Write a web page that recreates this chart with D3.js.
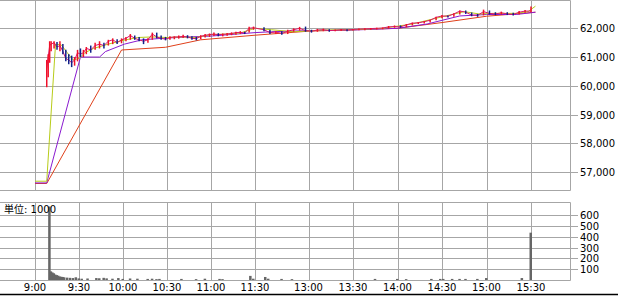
<!DOCTYPE html>
<html lang="ja">
<head>
    <meta charset="UTF-8">
    <title>日中足チャート</title>
    <style>
        body { margin: 0; background: #fff; }
        svg { display: block; font-family: "DejaVu Sans", "Noto Sans CJK JP", sans-serif; font-size: 10px; }
    </style>
</head>
<body>
    <script src="https://d3js.org/d3.v7.min.js"></script>
    <div id="chart"></div>

    <script>
        // minutes after 9:00 (lunch break 11:30-12:30 is squeezed)
        const barTimes = [8, 9, 10, 11, 13, 15, 17, 19, 21, 23, 25, 27, 29, 31, 33, 35, 38, 41, 44, 47, 50, 53, 56, 59, 62, 65, 68, 71, 74, 77, 80, 83, 86, 89, 92, 95, 98, 101, 104, 107, 110, 113, 116, 119, 122, 125, 128, 131, 134, 137, 140, 143, 146, 149,
            210, 214, 218, 222, 226, 230, 234, 238, 242, 246, 250, 254, 258, 262, 266, 270, 274, 278, 282, 286, 290, 294, 298, 302, 306, 310, 314, 318, 322, 326, 330, 334, 338, 342, 346, 350, 354, 358, 362, 366, 370, 374, 378, 382, 386, 390];
        const barHigh = [60900, 61100, 61550, 61550, 61550, 61520, 61550, 61450, 61250, 61100, 61050, 61000, 61250, 61300, 61250, 61350, 61400, 61500, 61550, 61500, 61600, 61650, 61620, 61650, 61700, 61800, 61750, 61700, 61650, 61650, 61850, 61850, 61750, 61700, 61720, 61720, 61750, 61780, 61760, 61720, 61700, 61760, 61800, 61820, 61850, 61830, 61820, 61840, 61860, 61880, 61900, 61880, 62050, 62060,
            62040, 61950, 61900, 61900, 61950, 62000, 62050, 62060, 61950, 61980, 61990, 61970, 61960, 61980, 61970, 61980, 61990, 62000, 62010, 62020, 62030, 62080, 62100, 62100, 62150, 62200, 62220, 62250, 62300, 62400, 62460, 62450, 62520, 62620, 62620, 62550, 62500, 62650, 62620, 62560, 62580, 62560, 62540, 62600, 62640, 62760];
        const barLow = [59950, 60300, 60800, 61200, 61300, 61250, 61200, 61100, 60850, 60750, 60650, 60700, 60850, 61000, 61000, 61100, 61150, 61250, 61300, 61300, 61400, 61450, 61450, 61480, 61550, 61600, 61600, 61550, 61450, 61500, 61600, 61650, 61600, 61580, 61600, 61620, 61640, 61660, 61650, 61600, 61580, 61620, 61680, 61700, 61730, 61720, 61720, 61740, 61760, 61780, 61800, 61800, 61850, 61950,
            61900, 61800, 61800, 61780, 61800, 61880, 61920, 61880, 61850, 61880, 61900, 61880, 61900, 61910, 61900, 61920, 61930, 61930, 61950, 61960, 61970, 61990, 62020, 62020, 62040, 62100, 62150, 62170, 62200, 62280, 62350, 62380, 62400, 62480, 62500, 62420, 62400, 62450, 62480, 62460, 62480, 62460, 62450, 62480, 62540, 62560];
        const barClose = [60600, 61000, 61400, 61450, 61500, 61350, 61400, 61200, 60950, 60900, 60800, 60900, 61150, 61100, 61150, 61300, 61250, 61400, 61450, 61400, 61550, 61600, 61500, 61600, 61650, 61750, 61650, 61600, 61550, 61600, 61800, 61700, 61650, 61620, 61680, 61700, 61700, 61720, 61700, 61650, 61640, 61720, 61760, 61780, 61800, 61780, 61790, 61800, 61820, 61850, 61860, 61840, 62000, 62020,
            61950, 61850, 61870, 61820, 61900, 61950, 62000, 61920, 61900, 61940, 61950, 61920, 61930, 61950, 61940, 61960, 61970, 61980, 61990, 62000, 62010, 62050, 62060, 62050, 62120, 62180, 62190, 62230, 62280, 62380, 62430, 62420, 62500, 62600, 62560, 62460, 62450, 62580, 62520, 62500, 62540, 62500, 62480, 62560, 62600, 62600];

        // moving averages
        const maShortTimes = [0, 8, 14, 18, 22, 26, 30, 34, 40, 50, 60, 70, 80, 90, 100, 110, 120, 130, 140, 150, 215, 230, 250, 270, 290, 310, 330, 345, 355, 365, 380, 388, 393];
        const maShort = [56680, 56680, 61450, 61420, 61150, 60900, 60950, 61150, 61300, 61450, 61580, 61680, 61700, 61680, 61700, 61680, 61780, 61800, 61840, 62000, 61950, 61880, 61940, 61950, 62000, 62150, 62400, 62580, 62500, 62520, 62520, 62580, 62770];
        const maMidTimes = [0, 8, 31, 44, 48, 61, 73, 89, 105, 120, 150, 215, 240, 270, 300, 320, 342, 360, 380, 393];
        const maMid = [56620, 56620, 61000, 61000, 61190, 61450, 61600, 61660, 61700, 61730, 61850, 61880, 61920, 61940, 62000, 62150, 62430, 62480, 62480, 62560];
        const maLongTimes = [0, 8, 59, 89, 113, 150, 240, 300, 330, 360, 393];
        const maLong = [56600, 56600, 61245, 61340, 61600, 61760, 61900, 62000, 62200, 62420, 62560];

        // volume (単位: 1000)
        const volTimes = [10, 11, 12, 13, 14, 15, 16, 17, 18, 19, 20, 22, 24, 26, 28, 30, 32, 36, 42, 44, 47, 49, 53, 57, 60, 65, 70, 77, 80, 83, 85, 100, 110, 116, 126, 128, 147, 149,
            211, 213, 222, 229, 285, 300, 306, 323, 329, 331, 337, 342, 346, 354, 360, 384, 390];
        const volValues = [680, 80, 70, 62, 50, 45, 40, 32, 30, 28, 25, 22, 20, 18, 25, 15, 12, 14, 18, 16, 20, 15, 12, 18, 10, 14, 12, 10, 12, 8, 10, 10, 8, 12, 10, 8, 38, 12,
            28, 12, 10, 8, 10, 10, 8, 10, 10, 10, 10, 10, 10, 10, 18, 18, 438];

        const tickTimes = [0, 30, 60, 90, 120, 150, 240, 270, 300, 330, 360, 390];
        const tickLabels = ["9:00", "9:30", "10:00", "10:30", "11:00", "11:30", "13:00", "13:30", "14:00", "14:30", "15:00", "15:30"];
        const priceTicks = [57000, 58000, 59000, 60000, 61000, 62000];
        const volTicks = [100, 200, 300, 400, 500, 600];

        const W = 618, H = 296;
        const right = 570;
        const grid = "#a6a6a6";

        const svg = d3.select("#chart").append("svg")
            .attr("width", W)
            .attr("height", H);

        // x: morning and afternoon sessions with a small gap for lunch
        const x = d3.scaleLinear()
            .domain([0, 150, 210, 390])
            .range([35, 255, 264, 531]);

        const y = d3.scaleLinear()
            .domain([56374, 62985])
            .range([190, 0]);

        const yv = d3.scaleLinear()
            .domain([0, 722])
            .range([280, 202]);

        // price panel grid
        const pricePanel = svg.append("g");
        pricePanel.selectAll(".hg")
            .data(priceTicks)
            .enter().append("line")
            .attr("x1", 0).attr("x2", right + 8)
            .attr("y1", d => Math.round(y(d)) + 0.5)
            .attr("y2", d => Math.round(y(d)) + 0.5)
            .attr("stroke", grid);
        pricePanel.selectAll(".vg")
            .data(tickTimes)
            .enter().append("line")
            .attr("x1", d => Math.round(x(d)) + 0.5)
            .attr("x2", d => Math.round(x(d)) + 0.5)
            .attr("y1", 0).attr("y2", 190)
            .attr("stroke", grid);
        pricePanel.append("path")
            .attr("d", `M0,0.5H${right + 0.5}V190.5H0`)
            .attr("fill", "none")
            .attr("stroke", grid);
        pricePanel.selectAll(".pl")
            .data(priceTicks)
            .enter().append("text")
            .attr("x", 580)
            .attr("y", d => y(d) + 4)
            .text(d3.format(","));

        // volume panel grid
        const volPanel = svg.append("g");
        volPanel.selectAll(".hg")
            .data(volTicks)
            .enter().append("line")
            .attr("x1", 0).attr("x2", right + 8)
            .attr("y1", d => Math.round(yv(d)) + 0.5)
            .attr("y2", d => Math.round(yv(d)) + 0.5)
            .attr("stroke", grid);
        volPanel.selectAll(".vg")
            .data(tickTimes)
            .enter().append("line")
            .attr("x1", d => Math.round(x(d)) + 0.5)
            .attr("x2", d => Math.round(x(d)) + 0.5)
            .attr("y1", 202).attr("y2", 280)
            .attr("stroke", grid);
        volPanel.append("path")
            .attr("d", `M0,202.5H${right + 0.5}V280.5H0`)
            .attr("fill", "none")
            .attr("stroke", grid);
        volPanel.selectAll(".vl")
            .data(volTicks)
            .enter().append("text")
            .attr("x", 580)
            .attr("y", d => yv(d) + 4)
            .text(d => d);

        // volume bars
        volPanel.selectAll(".vb")
            .data(volTimes)
            .enter().append("rect")
            .attr("x", d => x(d) - 1.5)
            .attr("width", 2.5)
            .attr("y", (d, i) => yv(volValues[i]))
            .attr("height", (d, i) => 280 - yv(volValues[i]))
            .attr("fill", "#666");

        volPanel.append("text")
            .attr("x", 4)
            .attr("y", 213)
            .text("単位: 1000");

        // x labels
        svg.selectAll(".xl")
            .data(tickTimes)
            .enter().append("text")
            .attr("x", d => x(d))
            .attr("y", 291)
            .attr("text-anchor", "middle")
            .text((d, i) => tickLabels[i]);

        svg.append("line")
            .attr("x1", 0).attr("x2", W)
            .attr("y1", 294.5).attr("y2", 294.5)
            .attr("stroke", "#000")
            .attr("stroke-width", 1.5);

        // moving averages
        const maLine = (times) => d3.line()
            .x((d, i) => x(times[i]))
            .y(d => y(d));
        svg.append("path").datum(maLong)
            .attr("d", maLine(maLongTimes))
            .attr("fill", "none").attr("stroke", "#e0401a").attr("stroke-width", 1);
        svg.append("path").datum(maMid)
            .attr("d", maLine(maMidTimes))
            .attr("fill", "none").attr("stroke", "#8a1ad0").attr("stroke-width", 1);
        svg.append("path").datum(maShort)
            .attr("d", maLine(maShortTimes))
            .attr("fill", "none").attr("stroke", "#b8cc1a").attr("stroke-width", 1);

        // price bars
        svg.append("path").datum(barClose)
            .attr("d", maLine(barTimes))
            .attr("fill", "none").attr("stroke", "#d81870").attr("stroke-width", 1);
        svg.selectAll(".bar")
            .data(barTimes)
            .enter().append("line")
            .attr("x1", d => x(d)).attr("x2", d => x(d))
            .attr("y1", (d, i) => y(barHigh[i]))
            .attr("y2", (d, i) => y(barLow[i]))
            .attr("stroke", (d, i) => i > 0 && barClose[i] < barClose[i - 1] ? "#10208a" : "#f0102a")
            .attr("stroke-width", 1.5);
    </script>
</body>
</html>
